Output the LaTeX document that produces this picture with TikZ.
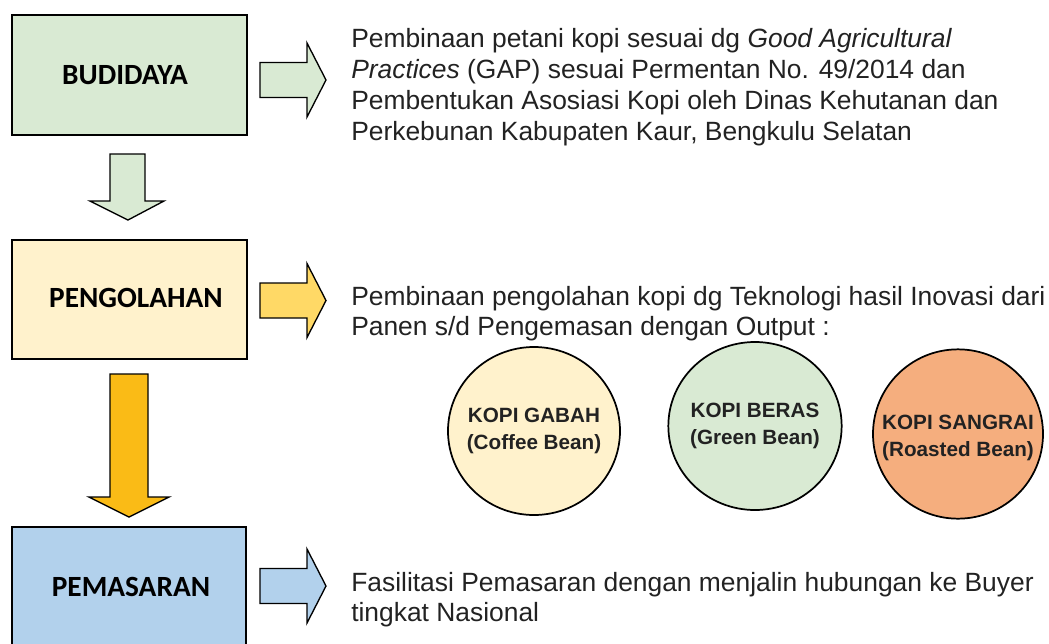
\documentclass[tikz,border=0pt]{standalone}
\usepackage{fontspec}
\setmainfont{Liberation Sans}
\newfontfamily\calibrifont{Carlito}
\usetikzlibrary{shapes.geometric}
\definecolor{cgreen}{HTML}{D9EAD3}
\definecolor{cyellow}{HTML}{FFF2CC}
\definecolor{cblue}{HTML}{B2D1EC}
\definecolor{cgold}{HTML}{FFD966}
\definecolor{corange}{HTML}{FABB16}
\definecolor{csalmon}{HTML}{F5AE7E}
\definecolor{ctext}{HTML}{222222}
\tikzset{
  stagebox/.style={draw=black, line width=1.8pt, inner sep=0pt},
  stagelabel/.style={font=\calibrifont\bfseries\fontsize{22}{26}\selectfont, text=black, inner sep=0pt},
  blockarrow/.style={draw=black, line width=1pt, line join=miter},
  desc/.style={font=\fontsize{19.8}{23}\selectfont, text=ctext, anchor=base west, inner sep=0pt},
  outcircle/.style={ellipse, draw=black, line width=1.3pt, inner sep=0pt},
  outlabel/.style={align=center, inner sep=0pt, font=\bfseries\fontsize{15.5}{20.5}\selectfont, text=ctext},
}
\newcommand\rightblock[2]{% center y, colour
  \draw[blockarrow, fill=#2] (260,#1-17.5) -- (307,#1-17.5) -- (307,#1-37) -- (326,#1)
    -- (307,#1+37) -- (307,#1+17.5) -- (260,#1+17.5) -- cycle;}
\begin{document}
\begin{tikzpicture}[x=0.75pt,y=-0.75pt]
\useasboundingbox (0,0) rectangle (1049,643);
\clip (0,0) rectangle (1049,643);

% stage boxes
\node[stagebox, fill=cgreen, minimum width=176.25pt, minimum height=90pt] (bud) at (129.5,75) {};
\node[stagebox, fill=cyellow, minimum width=176.25pt, minimum height=89.25pt] (peng) at (129.5,299.5) {};
\node[stagebox, fill=cblue, minimum width=175.5pt, minimum height=129pt] (pem) at (129,613) {};
\node[stagelabel] (budl) at (125,75) {BUDIDAYA};
\node[stagelabel] (pengl) at (136,298) {PENGOLAHAN};
\node[stagelabel] (peml) at (131,587) {PEMASARAN};

% down block arrows
\draw[blockarrow, fill=cgreen] (110,154) -- (145,154) -- (145,201) -- (164,201) -- (128,220)
  -- (90,201) -- (110,201) -- cycle;
\draw[blockarrow, fill=corange] (110,374) -- (148,374) -- (148,497) -- (169,497) -- (129,517)
  -- (89,497) -- (110,497) -- cycle;

% right block arrows
\rightblock{80}{cgreen}
\rightblock{300.5}{cgold}
\rightblock{586}{cblue}

% descriptions
\node[desc] (t1a) at (351,47) {Pembinaan petani kopi sesuai dg \textit{Good Agricultural}};
\node[desc] (t1b) at (351,78) {\textit{Practices} (GAP) sesuai Permentan No. 49/2014 dan};
\node[desc] (t1c) at (351,109) {Pembentukan Asosiasi Kopi oleh Dinas Kehutanan dan};
\node[desc] (t1d) at (351,140) {Perkebunan Kabupaten Kaur, Bengkulu Selatan};

\node[desc] (t2a) at (351,305) {Pembinaan pengolahan kopi dg Teknologi hasil Inovasi dari};
\node[desc] (t2b) at (351,335) {Panen s/d Pengemasan dengan Output :};

\node[desc] (t3a) at (351,591) {Fasilitasi Pemasaran dengan menjalin hubungan ke Buyer};
\node[desc] (t3b) at (351,621) {tingkat Nasional};

% output circles
\node[outcircle, fill=cyellow, minimum width=129pt, minimum height=126pt] (gabah) at (534,431) {};
\node[outcircle, fill=cgreen, minimum width=130pt, minimum height=126pt] (beras) at (755,426) {};
\node[outcircle, fill=csalmon, minimum width=127.5pt, minimum height=127pt] (sangrai) at (958,434) {};
\node[outlabel] (gabahl) at (gabah) {KOPI GABAH\\(Coffee Bean)};
\node[outlabel] (berasl) at (beras) {KOPI BERAS\\(Green Bean)};
\node[outlabel] (sangrail) at ([yshift=-3pt]sangrai.center) {KOPI SANGRAI\\(Roasted Bean)};
\end{tikzpicture}
\end{document}
